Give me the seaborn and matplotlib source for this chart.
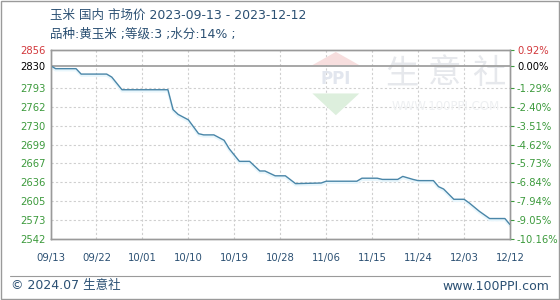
import matplotlib
matplotlib.use("Agg")
import matplotlib.pyplot as plt
import seaborn as sns
import pandas as pd

sns.set_theme(style="white")
plt.rcParams['font.family'] = ['DejaVu Sans', 'Noto Sans CJK SC']

# ---- data ----
dates = ["2023-09-13", "2023-09-14", "2023-09-18", "2023-09-19", "2023-09-24", "2023-09-25",
         "2023-09-27", "2023-10-06", "2023-10-07", "2023-10-08", "2023-10-10", "2023-10-12",
         "2023-10-13", "2023-10-15", "2023-10-17", "2023-10-18", "2023-10-20", "2023-10-22",
         "2023-10-24", "2023-10-25", "2023-10-27", "2023-10-29", "2023-10-31", "2023-11-05",
         "2023-11-06", "2023-11-12", "2023-11-13", "2023-11-16", "2023-11-17", "2023-11-20",
         "2023-11-21", "2023-11-23", "2023-11-24", "2023-11-27", "2023-11-28", "2023-11-29",
         "2023-12-01", "2023-12-03", "2023-12-04", "2023-12-06", "2023-12-08", "2023-12-11",
         "2023-12-12"]
prices = [2830, 2825, 2825, 2816, 2816, 2811,
          2790, 2790, 2757, 2749, 2740, 2717,
          2715, 2715, 2706, 2692, 2671, 2671,
          2655, 2655, 2647, 2647, 2634, 2635,
          2638, 2638, 2643, 2643, 2641, 2641,
          2646, 2641, 2639, 2639, 2629, 2625,
          2608, 2608, 2602, 2588, 2576, 2576,
          2566]
x_tick_labels = ["09/13", "09/22", "10/01", "10/10", "10/19", "10/28",
                 "11/06", "11/15", "11/24", "12/03", "12/12"]
x_tick_dates = ["2023-09-13", "2023-09-22", "2023-10-01", "2023-10-10", "2023-10-19",
                "2023-10-28", "2023-11-06", "2023-11-15", "2023-11-24", "2023-12-03",
                "2023-12-12"]
y_ticks = [2856, 2830, 2793.2, 2761.8, 2730.4, 2699, 2667.6, 2636.2, 2604.8, 2573.4, 2542]
y_tick_labels = ["2856", "2830", "2793", "2762", "2730", "2699", "2667", "2636", "2605", "2573", "2542"]
pct_labels = ["0.92%", "0.00%", "-1.29%", "-2.40%", "-3.51%", "-4.62%", "-5.73%",
              "-6.84%", "-7.94%", "-9.05%", "-10.16%"]
base_price = 2830

df = pd.DataFrame({"date": pd.to_datetime(dates), "price": prices})

RED = "#d2383c"
GREEN = "#3c9a3c"
BLUE_TXT = "#2b5073"

fig = plt.figure(figsize=(5.6, 3.0), dpi=100)
ax = fig.add_axes([50.5 / 560, 1 - 239 / 300, (510 - 50.5) / 560, (239 - 50) / 300])

x0 = pd.Timestamp("2023-09-13")
x1 = pd.Timestamp("2023-12-12")
ax.set_xlim(x0, x1)
ax.set_ylim(2542, 2856)

# grid
for d in x_tick_dates[1:-1]:
    ax.axvline(pd.Timestamp(d), color="#cfcfcf", lw=0.8, ls=(0, (2, 2)), zorder=0)
for v in y_ticks[2:-1]:
    ax.axhline(v, color="#cfcfcf", lw=0.8, ls=(0, (2, 2)), zorder=0)
ax.axhline(base_price, color="#a0a0a0", lw=1.3, zorder=1)

# watermark
for cx, ch in zip([0.765, 0.858, 0.954], ["生", "意", "社"]):
    ax.text(cx, 0.875, ch, transform=ax.transAxes, ha="center", va="center",
            fontsize=24, color="#e6e8ec", zorder=0.5, family="Noto Sans CJK SC")
ax.text(0.861, 0.70, "WWW.100PPI.COM", transform=ax.transAxes, ha="center", va="center",
        fontsize=8.5, color="#eef0f2", zorder=0.5)
ax.add_patch(plt.Polygon([[0.57, 0.92], [0.672, 0.92], [0.621, 0.99]], closed=True,
                         transform=ax.transAxes, color="#f7dede", zorder=0.5, lw=0))
ax.add_patch(plt.Polygon([[0.57, 0.77], [0.672, 0.77], [0.621, 0.655]], closed=True,
                         transform=ax.transAxes, color="#ddefdd", zorder=0.5, lw=0))
ax.text(0.621, 0.845, "PPI", transform=ax.transAxes, ha="center", va="center",
        fontsize=12, color="#e2e6ee", zorder=0.5, fontweight="bold")

# shadow + line
shadow = df.copy()
shadow["price"] = shadow["price"] - 2.5
sns.lineplot(data=shadow, x="date", y="price", ax=ax, color="#e8f6fc", lw=1.8, zorder=2)
sns.lineplot(data=df, x="date", y="price", ax=ax, color="#4a86a8", lw=1.0, zorder=3)

ax.set_xlabel("")
ax.set_ylabel("")

# ticks
ax.set_xticks([pd.Timestamp(d) for d in x_tick_dates])
ax.set_xticklabels(x_tick_labels, fontsize=7.3, color=BLUE_TXT)
ax.tick_params(axis="x", length=0, pad=10)
ax.set_yticks(y_ticks)
ax.set_yticklabels(y_tick_labels, fontsize=7.2)
ax.tick_params(axis="y", length=0, pad=22)
for i, lab in enumerate(ax.get_yticklabels()):
    lab.set_color(RED if i == 0 else ("black" if i == 1 else GREEN))
    lab.set_horizontalalignment("left")

ax2 = ax.twinx()
ax2.set_ylim(ax.get_ylim())
ax2.set_yticks(y_ticks)
ax2.set_yticklabels(pct_labels, fontsize=7.2)
ax2.tick_params(axis="y", length=3, width=0.8, color=GREEN, pad=2)
for i, lab in enumerate(ax2.get_yticklabels()):
    lab.set_color(RED if i == 0 else ("black" if i == 1 else GREEN))

for a in (ax, ax2):
    for s in a.spines.values():
        s.set_color("#9a9a9a")
        s.set_linewidth(1.0)
    a.grid(False)

# titles
fig.text(50 / 560, 1 - 15 / 300, "玉米 国内 市场价 2023-09-13 - 2023-12-12", ha="left", va="center",
         fontsize=9, color=BLUE_TXT)
fig.text(50 / 560, 1 - 34 / 300, "品种:黄玉米 ;等级:3 ;水分:14% ;", ha="left", va="center",
         fontsize=9, color=BLUE_TXT)

# footer
fig.add_artist(plt.Line2D([10 / 560, 550 / 560], [1 - 276 / 300, 1 - 276 / 300],
                          color="#9a9a9a", lw=0.8))
fig.text(11 / 560, 1 - 286 / 300, "© 2024.07 生意社", ha="left", va="center",
         fontsize=9, color=BLUE_TXT)
fig.text(549 / 560, 1 - 286 / 300, "www.100PPI.com", ha="right", va="center",
         fontsize=9, color=BLUE_TXT)

# outer border
fig.add_artist(plt.Rectangle((0.001, 0.002), 0.997, 0.995, fill=False,
                             edgecolor="#9a9a9a", lw=1.0, transform=fig.transFigure))

fig.savefig("out.png", dpi=100)
